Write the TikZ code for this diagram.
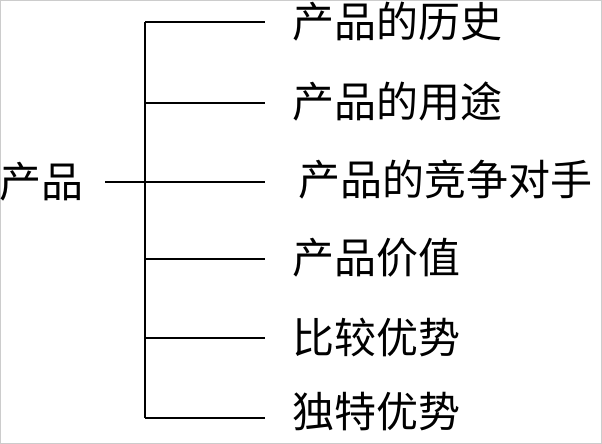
\documentclass[tikz,border=0pt]{standalone}
\usepackage{fontspec}
\newfontfamily\cjk{Noto Sans CJK SC}
\begin{document}
\begin{tikzpicture}[x=1pt,y=-1pt,
  lbl/.style={font=\cjk\fontsize{42}{46}\selectfont,anchor=west,inner sep=0pt},
  ln/.style={line width=1.3pt}]
\useasboundingbox (0,0) rectangle (602,444);
\draw[gray!40] (0.5,0.5) rectangle (601.5,443.5);
\node[lbl,anchor=center] (root) at (41,182) {产品};
\coordinate (rs) at (105,182);
\coordinate (top) at (145,22);
\coordinate (bot) at (145,418);
\draw[ln] (top) -- (bot);
\foreach \n/\y/\x/\t in {a/22/292/产品的历史, b/101/292/产品的用途, c/180/298/产品的竞争对手, d/258/292/产品价值, e/337/292/比较优势, f/412/292/独特优势}{
  \node[lbl] (\n) at (\x,\y) {\t};
}
\foreach \n/\y in {a/22,b/103,d/259,e/338,f/418}{
  \coordinate (s\n) at (145,\y);
  \coordinate (e\n) at (265,\y);
  \draw[ln] (s\n) -- (e\n);
}
\coordinate (ec) at (265,182);
\draw[ln] (rs) -- (ec);
\end{tikzpicture}
\end{document}
